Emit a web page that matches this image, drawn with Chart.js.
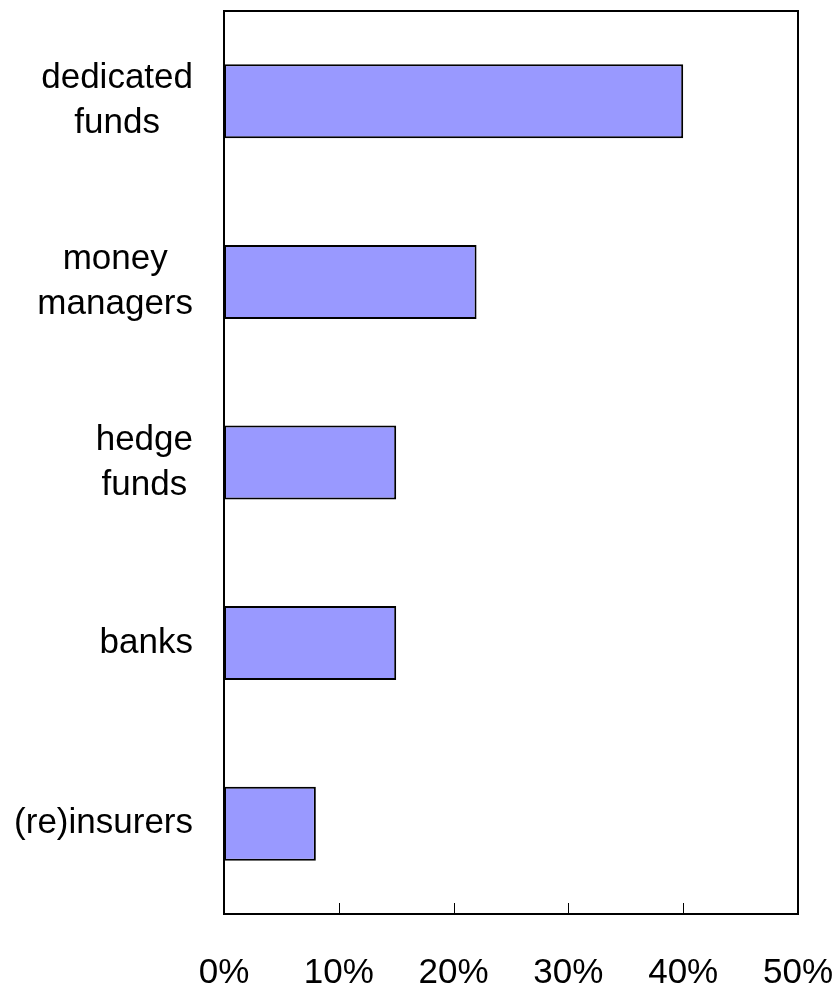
<!DOCTYPE html>
<html lang="en">
<head>
    <meta charset="UTF-8">
    <title>Investor types</title>
    <script src="https://cdn.jsdelivr.net/npm/chart.js"></script>
    <style>
        html, body { margin: 0; padding: 0; background: #fff; }
        #wrap { width: 838px; height: 987px; position: relative; }
    </style>
</head>
<body>
    <div id="wrap"><canvas id="investorChart"></canvas></div>

    <script>
        // categories (top to bottom) and shares in percent
        const categories = [
            ['dedicated', 'funds'],
            ['money', 'managers'],
            ['hedge', 'funds'],
            ['banks'],
            ['(re)insurers']
        ];
        const shares = [40, 22, 15, 15, 8];
        const xTicks = [0, 10, 20, 30, 40, 50];

        const FONT = '"Liberation Sans", Arial, sans-serif';
        const FONT_SIZE = 35;
        const LINE_H = 45;

        // frame round the plot area, inner tick marks, and centred category labels
        const framePlugin = {
            id: 'frame',
            afterDraw(chart) {
                const ctx = chart.ctx;
                const a = chart.chartArea;
                const xs = chart.scales.x;
                const ys = chart.scales.y;
                ctx.save();
                ctx.strokeStyle = '#000';
                ctx.lineWidth = 2;
                ctx.strokeRect(a.left, a.top, a.right - a.left, a.bottom - a.top);

                ctx.lineWidth = 1;
                xTicks.forEach(v => {
                    const px = Math.round(xs.getPixelForValue(v)) + 0.5;
                    ctx.beginPath();
                    ctx.moveTo(px, a.bottom);
                    ctx.lineTo(px, a.bottom - 11);
                    ctx.stroke();
                });

                ctx.fillStyle = '#000';
                ctx.font = FONT_SIZE + 'px ' + FONT;
                ctx.textAlign = 'center';
                ctx.textBaseline = 'middle';
                const rightEdge = a.left - 31;
                categories.forEach((lines, i) => {
                    const cy = ys.getPixelForValue(i);
                    const w = Math.max(...lines.map(l => ctx.measureText(l).width));
                    const cx = rightEdge - w / 2;
                    const y0 = cy - (lines.length - 1) * LINE_H / 2;
                    lines.forEach((l, j) => ctx.fillText(l, cx, y0 + j * LINE_H));
                });
                ctx.restore();
            }
        };

        new Chart(document.getElementById('investorChart'), {
            type: 'bar',
            data: {
                labels: categories,
                datasets: [{
                    data: shares,
                    backgroundColor: '#9999ff',
                    borderColor: '#000',
                    borderWidth: 2,
                    borderSkipped: false,
                    barPercentage: 0.41,
                    categoryPercentage: 1
                }]
            },
            options: {
                indexAxis: 'y',
                responsive: true,
                maintainAspectRatio: false,
                animation: false,
                layout: { padding: { top: 11, right: 40, left: 0, bottom: 0 } },
                plugins: {
                    legend: { display: false },
                    tooltip: { enabled: false }
                },
                scales: {
                    x: {
                        min: 0,
                        max: 50,
                        grid: { display: false, drawTicks: false },
                        border: { display: false },
                        afterBuildTicks: s => { s.ticks = xTicks.map(v => ({ value: v })); },
                        afterFit: s => { s.height = 73; s.paddingLeft = 0; s.paddingRight = 0; },
                        ticks: {
                            padding: 38,
                            color: '#000',
                            font: { family: FONT, size: FONT_SIZE },
                            maxRotation: 0,
                            callback: v => v + '%'
                        }
                    },
                    y: {
                        grid: { display: false, drawTicks: false },
                        border: { display: false },
                        afterFit: s => { s.width = 224; s.paddingTop = 0; s.paddingBottom = 0; },
                        ticks: { display: false }
                    }
                }
            },
            plugins: [framePlugin]
        });
    </script>
</body>
</html>
